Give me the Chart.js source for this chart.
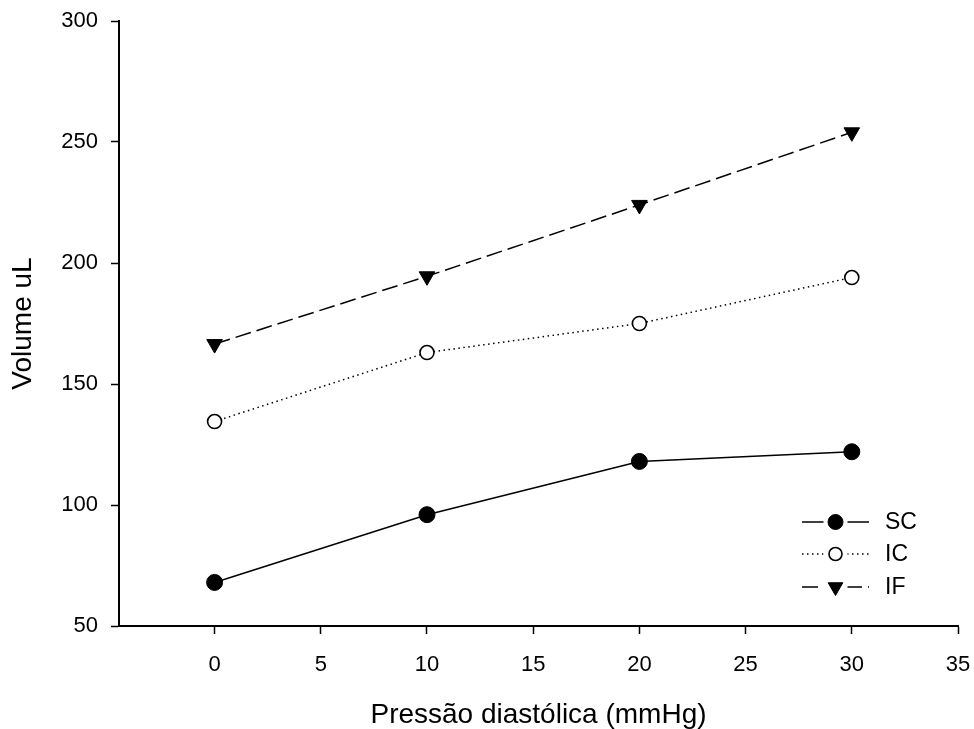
<!DOCTYPE html>
<html>
<head>
<meta charset="utf-8">
<script src="https://cdn.jsdelivr.net/npm/chart.js@4"></script>
<style>
  html, body { margin: 0; padding: 0; background: #fff; }
</style>
</head>
<body>
<canvas id="chart" width="974" height="729"></canvas>
<script>
const pressures = [0, 10, 20, 30];
const scValues = [68, 96, 118, 122];
const icValues = [134.5, 163, 175, 194];
const ifValues = [166.5, 194.5, 224, 254];
const xTicks = [0, 5, 10, 15, 20, 25, 30, 35];
const yTicks = [50, 100, 150, 200, 250, 300];

const FONT = "'Liberation Sans', Arial, sans-serif";

function pts(vals) {
  return pressures.map((p, i) => ({ x: p, y: vals[i] }));
}

// legend with line + marker, bottom right of plot
const lineLegend = {
  id: 'lineLegend',
  afterDraw(chart) {
    const ctx = chart.ctx;
    const a = chart.chartArea;
    const x0 = a.right - 156, x1 = a.right - 89, xm = (x0 + x1) / 2;
    const rows = [a.bottom - 104, a.bottom - 72, a.bottom - 39];
    chart.data.datasets.forEach((ds, i) => {
      const y = rows[i];
      ctx.save();
      ctx.strokeStyle = '#000';
      ctx.lineWidth = ds.borderWidth;
      ctx.setLineDash(ds.borderDash || []);
      ctx.beginPath();
      ctx.moveTo(x0, y);
      ctx.lineTo(x1, y);
      ctx.stroke();
      ctx.setLineDash([]);
      ctx.fillStyle = '#fff';
      ctx.fillRect(xm - 12, y - 10, 24, 20);
      ctx.fillStyle = ds.pointBackgroundColor;
      ctx.strokeStyle = '#000';
      ctx.lineWidth = ds.pointBorderWidth;
      Chart.helpers.drawPoint(ctx, {
        pointStyle: ds.pointStyle,
        rotation: ds.pointRotation || 0,
        radius: ds.pointRadius - 0.5,
        borderWidth: ds.pointBorderWidth
      }, xm, y);
      ctx.fillStyle = '#000';
      ctx.font = '23px ' + FONT;
      ctx.textBaseline = 'middle';
      ctx.fillText(ds.label, a.right - 73, y + 1);
      ctx.restore();
    });
  }
};

new Chart(document.getElementById('chart'), {
  type: 'line',
  data: {
    datasets: [
      {
        label: 'SC', data: pts(scValues),
        borderColor: '#000', borderWidth: 1.5,
        pointStyle: 'circle', pointRadius: 8,
        pointBackgroundColor: '#000', pointBorderColor: '#000', pointBorderWidth: 1
      },
      {
        label: 'IC', data: pts(icValues),
        borderColor: '#000', borderWidth: 1.5, borderDash: [1.5, 3.5],
        pointStyle: 'circle', pointRadius: 7,
        pointBackgroundColor: '#fff', pointBorderColor: '#000', pointBorderWidth: 1.6
      },
      {
        label: 'IF', data: pts(ifValues),
        borderColor: '#000', borderWidth: 1.5, borderDash: [16, 6],
        pointStyle: 'triangle', pointRotation: 180, pointRadius: 9,
        pointBackgroundColor: '#000', pointBorderColor: '#000', pointBorderWidth: 1
      }
    ]
  },
  options: {
    responsive: false,
    animation: false,
    devicePixelRatio: 1,
    layout: { padding: { top: 21, right: 16, left: 0, bottom: 0 } },
    plugins: { legend: { display: false }, tooltip: { enabled: false } },
    scales: {
      x: {
        type: 'linear',
        min: -4.5, max: 35,
        afterBuildTicks: s => { s.ticks = xTicks.map(v => ({ value: v })); },
        afterFit: s => { s.height = 103; s.paddingRight = 0; s.paddingLeft = 0; },
        grid: { drawOnChartArea: false, drawTicks: true, tickLength: 8, tickColor: '#000', tickWidth: 1.5 },
        border: { color: '#000', width: 2 },
        ticks: { color: '#000', padding: 18, font: { family: FONT, size: 22 } },
        title: {
          display: true, text: 'Pressão diastólica (mmHg)', color: '#000',
          font: { family: FONT, size: 28, lineHeight: 1 }, padding: { top: 0, bottom: 0 }
        }
      },
      y: {
        min: 50, max: 300,
        afterBuildTicks: s => { s.ticks = yTicks.map(v => ({ value: v })); },
        afterFit: s => { s.width = 119; s.paddingTop = 0; s.paddingBottom = 0; },
        grid: { drawOnChartArea: false, drawTicks: true, tickLength: 8, tickColor: '#000', tickWidth: 1.5 },
        border: { color: '#000', width: 2 },
        ticks: { color: '#000', padding: 13, font: { family: FONT, size: 22 } },
        title: {
          display: true, text: 'Volume uL', color: '#000',
          font: { family: FONT, size: 28, lineHeight: 1 }, padding: { top: 9, bottom: 0 }
        }
      }
    }
  },
  plugins: [lineLegend]
});
</script>
</body>
</html>
